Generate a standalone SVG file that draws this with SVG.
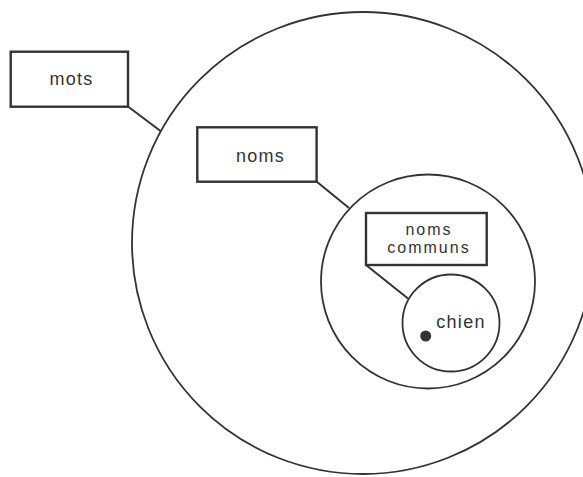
<svg xmlns="http://www.w3.org/2000/svg" width="583" height="477" viewBox="0 0 583 477">
<style>
.set{fill:none;stroke:#333;stroke-width:1.8}
.box{fill:#fff;stroke:#333;stroke-width:2.4}
.lnk{fill:none;stroke:#333;stroke-width:2}
.lbl{font-family:"Liberation Sans",Arial,sans-serif;font-size:18px;letter-spacing:1.3px;fill:#333;text-anchor:middle}
.sm{font-size:16px;letter-spacing:2px}
</style>
<rect width="583" height="477" fill="#fff"/>
<g id="set-mots"><circle class="set" cx="363" cy="243" r="231"/></g>
<g id="set-noms"><circle class="set" cx="428" cy="281.5" r="107"/></g>
<g id="set-noms-communs"><circle class="set" cx="451" cy="323" r="48.5"/></g>
<g id="connectors">
<line class="lnk" x1="128" y1="106.5" x2="160.5" y2="131"/>
<line class="lnk" x1="316.5" y1="181.5" x2="349" y2="208"/>
<line class="lnk" x1="366" y1="265" x2="408" y2="298.5"/>
</g>
<g id="mots"><rect class="box" x="10.7" y="51.7" width="117.3" height="55"/><text class="lbl" x="71.5" y="85">mots</text></g>
<g id="noms"><rect class="box" x="197.3" y="127.3" width="119.3" height="54.4"/><text class="lbl" x="260.5" y="161.5">noms</text></g>
<g id="noms-communs"><rect class="box" x="366" y="213" width="120.7" height="52"/><text class="lbl sm" x="429" y="234.5">noms</text><text class="lbl sm" x="429" y="252.5">communs</text></g>
<g id="chien"><circle cx="425.7" cy="336" r="5.5" fill="#333"/><text class="lbl" x="461" y="328">chien</text></g>
</svg>
